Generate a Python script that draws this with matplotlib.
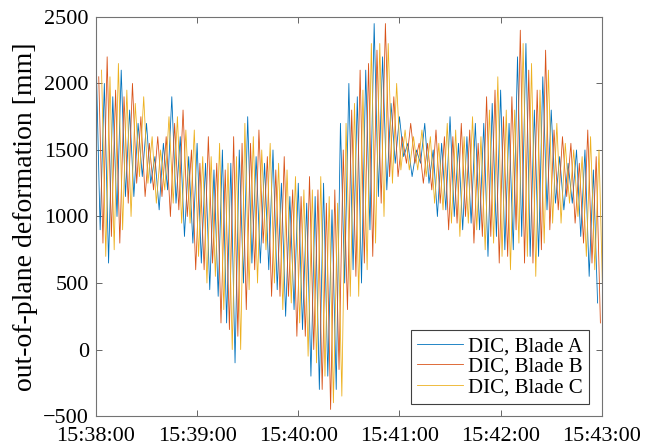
import numpy as np
import pandas as pd
import matplotlib
matplotlib.use('Agg')
import matplotlib.pyplot as plt
import matplotlib.dates as mdates

plt.rcParams['font.family'] = ['Liberation Serif', 'DejaVu Serif']

# peak / trough of every rotor revolution (~5 s)
a_hi = [2250, 2000, 1900, 2100, 1800, 1700, 1700, 1450, 1550, 1900, 1600, 1450, 1550, 1400, 1350,
        1500, 1400, 1500, 1750, 1450, 1400, 1500, 1250, 1150, 1250, 1100, 1150, 1250, 1050, 1700,
        2000, 1900, 2100, 2450, 2200, 1850, 1750, 1550, 1500, 1700, 1500, 1550, 1750, 1550, 1600,
        1700, 1700, 1850, 1950, 1700, 2200, 2300, 1800, 2050, 1800, 1450, 1400, 1500, 1500, 1350]
a_lo = [900, 650, 1000, 1150, 1150, 1300, 1250, 1050, 1200, 1100, 850, 800, 650, 450, 400,
        200, -100, 500, 650, 650, 600, 450, 250, 300, 150, -200, -300, -200, -300, 500,
        600, 500, 900, 1150, 1200, 1400, 1450, 1300, 1400, 1250, 1000, 1050, 1000, 900, 950,
        900, 700, 850, 750, 750, 850, 700, 700, 1050, 1100, 1050, 1100, 850, 550, 350]
b_hi = [2050, 2200, 1950, 1900, 2000, 1750, 1550, 1600, 1600, 1700, 1800, 1500, 1400, 1600, 1400,
        1350, 1600, 1550, 1550, 1650, 1450, 1350, 1450, 1200, 1150, 1300, 1200, 1100, 1200, 1500,
        1800, 2100, 2150, 2250, 2450, 1900, 1600, 1700, 1550, 1550, 1650, 1600, 1600, 1700, 1650,
        1550, 1900, 1950, 1750, 1900, 2400, 2100, 1950, 2250, 1650, 1600, 1550, 1400, 1650, 1450]
b_lo = [800, 850, 800, 1100, 1250, 1150, 1200, 1150, 1000, 1050, 1000, 600, 600, 650, 200,
        150, 100, 300, 600, 800, 400, 400, 400, 100, 100, 0, -300, -450, -150, 300,
        550, 650, 700, 1100, 1300, 1300, 1400, 1400, 1250, 1200, 1100, 900, 950, 1000, 800,
        850, 850, 650, 700, 900, 650, 650, 750, 900, 1050, 1150, 950, 800, 650, 200]
c_hi = [2100, 2050, 2150, 1950, 1850, 1900, 1600, 1500, 1750, 1750, 1650, 1650, 1450, 1450, 1550,
        1400, 1450, 1700, 1600, 1500, 1550, 1400, 1350, 1300, 1200, 1200, 1300, 1150, 1100, 1700,
        1850, 1950, 2300, 2300, 2300, 2000, 1650, 1600, 1650, 1600, 1550, 1700, 1650, 1600, 1750,
        1600, 1800, 2050, 1800, 1800, 2300, 2150, 1950, 2100, 1700, 1550, 1500, 1450, 1600, 1500]
c_lo = [700, 750, 900, 1000, 1300, 1250, 1100, 1200, 1100, 950, 950, 700, 500, 550, 300,
        0, 0, 450, 500, 750, 500, 300, 350, 200, -50, -100, -200, -400, -350, 400,
        400, 600, 800, 1000, 1250, 1350, 1350, 1350, 1300, 1100, 1050, 950, 850, 950, 900,
        750, 800, 700, 600, 800, 700, 550, 800, 950, 950, 1100, 1000, 700, 600, 250]

labels = ['DIC, Blade A', 'DIC, Blade B', 'DIC, Blade C']
colors = ['#0072BD', '#D95319', '#EDB120']
start = pd.Timestamp('2020-01-01 15:38:00')
offsets = [0.0, 5 / 3, 10 / 3]   # blades are a third of a revolution apart

fig = plt.figure(figsize=(6.57, 4.45), dpi=100)
ax = fig.add_axes([0.146, 0.065, 0.77, 0.897])

for hi, lo, off, lab, col in zip([a_hi, b_hi, c_hi], [a_lo, b_lo, c_lo], offsets, labels, colors):
    vals = np.empty(2 * len(hi))
    vals[0::2] = hi
    vals[1::2] = lo
    t = start + pd.to_timedelta(off + 2.5 * np.arange(len(vals)), unit='s')
    ax.plot(t, vals, color=col, lw=0.6, label=lab)

ax.set_xlim(start, start + pd.Timedelta(minutes=5))
ax.set_ylim(-500, 2500)
ax.set_yticks(np.arange(-500, 2501, 500))
ax.xaxis.set_major_locator(mdates.MinuteLocator())
ax.xaxis.set_major_formatter(mdates.DateFormatter('%H:%M:%S'))
ax.tick_params(direction='in', top=True, right=True, length=4, width=0.6,
               color='0.3', labelsize=16, pad=5)
ax.tick_params(axis='x', pad=8)
for s in ax.spines.values():
    s.set_color('0.45')
    s.set_linewidth(0.8)
ax.set_ylabel('out-of-plane deformation [mm]', fontsize=20, labelpad=4)

leg = ax.legend(loc='lower right', fontsize=15, fancybox=False, framealpha=1,
                edgecolor='0.25', handlelength=2.2, handletextpad=0.25,
                labelspacing=0.05, borderpad=0.3, borderaxespad=0.6)
leg.get_frame().set_linewidth(0.8)

fig.savefig('out.png', dpi=100)
